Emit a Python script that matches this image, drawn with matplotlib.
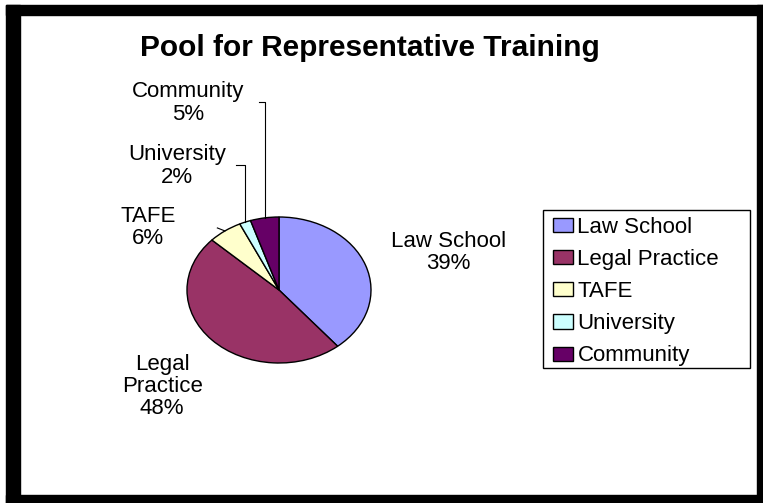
import matplotlib
matplotlib.use("Agg")
import matplotlib.pyplot as plt
from matplotlib.patches import Rectangle
import numpy as np

plt.rcParams['font.family'] = ['Liberation Sans', 'DejaVu Sans']

# Data
categories = ['Law School', 'Legal Practice', 'TAFE', 'University', 'Community']
shares = [39, 48, 6, 2, 5]
colors = ['#9999FF', '#993366', '#FFFFCC', '#CCFFFF', '#660066']
title = 'Pool for Representative Training'

W, H = 763, 503
fig = plt.figure(figsize=(W / 100, H / 100), dpi=100)

# pie is drawn as an ellipse: centre and radii in pixels
cx, cy, rx, ry = 279, 290, 92, 73
ax = fig.add_axes([0, 0, 1, 1])

wedges, _ = ax.pie(shares, colors=colors, startangle=90, counterclock=False,
                   radius=1, wedgeprops=dict(edgecolor='black', linewidth=1))
ax.set_aspect('auto')
ax.set_xlim(-cx / rx, (W - cx) / rx)
ax.set_ylim(-(H - cy) / ry, cy / ry)
ax.axis('off')

# label centres (in pie-radius units) and leader line elbows
label_pos = [(1.84, 0.51), (-1.27, -1.32), (-1.42, 0.86), (-1.11, 1.70), (-0.99, 2.56)]
leaders = {2: [(-0.67, 0.85)],
           3: [('x', 1.71), (-0.47, 1.71)],
           4: [('x', 2.58), (-0.22, 2.58)]}

for i, (w, name, val) in enumerate(zip(wedges, categories, shares)):
    if name == 'Legal Practice':
        txt = 'Legal\nPractice\n%d%%' % val
    else:
        txt = '%s\n%d%%' % (name, val)
    lx, ly = label_pos[i]
    ax.text(lx, ly, txt, ha='center', va='center', fontsize=16,
            linespacing=1.08, color='black')
    if i in leaders:
        mid = np.deg2rad((w.theta1 + w.theta2) / 2)
        sx, sy = np.cos(mid), np.sin(mid)
        xs, ys = [sx], [sy]
        for px, py in leaders[i]:
            xs.append(sx if px == 'x' else px)
            ys.append(py)
        ax.plot(xs, ys, color='black', linewidth=0.8)

# legend entries without a frame, box drawn separately
leg = fig.legend(wedges, categories, loc='upper left',
                 bbox_to_anchor=(553 / W, 1 - 217 / H), bbox_transform=fig.transFigure,
                 borderaxespad=0, fontsize=16, frameon=False,
                 handlelength=0.9, handleheight=0.6, handletextpad=0.2,
                 labelspacing=0.5, borderpad=0)
for h in leg.legend_handles:
    h.set_edgecolor('black')
    h.set_linewidth(1)
fig.patches.append(Rectangle((543 / W, 1 - 368 / H), (750 - 543) / W, (368 - 210) / H,
                             transform=fig.transFigure, facecolor='white',
                             edgecolor='black', linewidth=1, zorder=0.5))

fig.text(370 / W, 1 - 48 / H, title, ha='center', va='center',
         fontsize=21.5, fontweight='bold')

# black frame around the chart area
for x0, y0, x1, y1 in [(6, 5, 20, 503), (6, 5, 763, 15), (757, 5, 763, 503), (6, 495, 763, 503)]:
    fig.patches.append(Rectangle((x0 / W, 1 - y1 / H), (x1 - x0) / W, (y1 - y0) / H,
                                 transform=fig.transFigure, color='black', zorder=5))

fig.savefig('out.png', dpi=100)
